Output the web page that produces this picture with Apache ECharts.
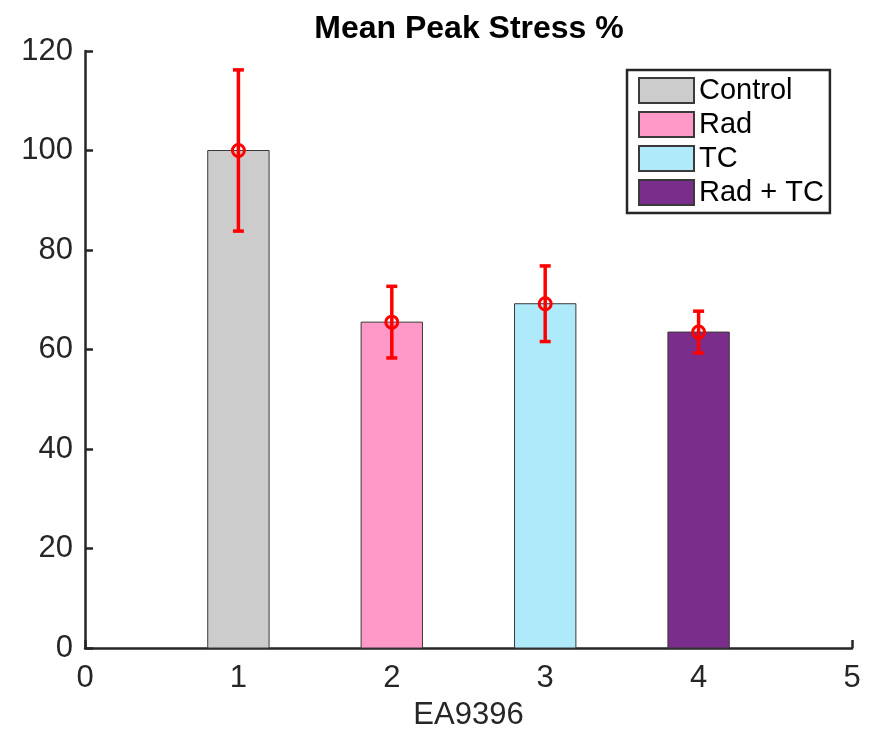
<!DOCTYPE html>
<html>
<head>
<meta charset="utf-8">
<script src="https://cdn.jsdelivr.net/npm/echarts@6/dist/echarts.min.js"></script>
<style>
html,body{margin:0;padding:0;background:#fff;}
#main{width:876px;height:732px;}
</style>
</head>
<body>
<div id="main"></div>
<script>
// Data
const categories = ['Control', 'Rad', 'TC', 'Rad + TC'];
const positions = [1, 2, 3, 4];
const means = [100, 65.5, 69.2, 63.5];
const errors = [16.2, 7.2, 7.6, 4.2];
const barColors = ['#cccccc', '#ff99c8', '#aeeafa', '#7b2d8b'];
const xTicks = [0, 1, 2, 3, 4, 5];
const yTicks = [0, 20, 40, 60, 80, 100, 120];

const FONT = 'Liberation Sans, Arial, Helvetica, sans-serif';
const AX = '#262626';
const BAR_HALF = 0.2;

const chart = echarts.init(document.getElementById('main'));

const barSeries = categories.map((name, i) => ({
  name: name,
  type: 'custom',
  itemStyle: { color: barColors[i], borderColor: '#3a3a3a', borderWidth: 1 },
  data: [[positions[i], means[i]]],
  z: 2,
  renderItem: function (params, api) {
    const p0 = api.coord([api.value(0) - BAR_HALF, api.value(1)]);
    const p1 = api.coord([api.value(0) + BAR_HALF, 0]);
    return {
      type: 'rect',
      shape: { x: p0[0], y: p0[1], width: p1[0] - p0[0], height: p1[1] - p0[1] },
      style: { fill: barColors[i], stroke: '#3a3a3a', lineWidth: 1 }
    };
  }
}));

const errSeries = {
  name: 'err',
  type: 'custom',
  z: 5,
  data: positions.map((p, i) => [p, means[i], means[i] - errors[i], means[i] + errors[i]]),
  renderItem: function (params, api) {
    const x = api.value(0);
    const c = api.coord([x, api.value(1)]);
    const lo = api.coord([x, api.value(2)]);
    const hi = api.coord([x, api.value(3)]);
    const cap = 5.5;
    const st = { stroke: '#ff0000', lineWidth: 3.5, fill: null };
    return {
      type: 'group',
      children: [
        { type: 'line', shape: { x1: lo[0], y1: lo[1], x2: hi[0], y2: hi[1] }, style: st },
        { type: 'line', shape: { x1: lo[0] - cap, y1: lo[1], x2: lo[0] + cap, y2: lo[1] }, style: st },
        { type: 'line', shape: { x1: hi[0] - cap, y1: hi[1], x2: hi[0] + cap, y2: hi[1] }, style: st },
        { type: 'circle', shape: { cx: c[0], cy: c[1], r: 6 }, style: { stroke: '#ff0000', lineWidth: 3, fill: 'rgba(0,0,0,0)' } }
      ]
    };
  }
};

chart.setOption({
  animation: false,
  backgroundColor: '#ffffff',
  title: {
    text: 'Mean Peak Stress %',
    left: 464, top: 8, textAlign: 'center',
    textStyle: { fontFamily: FONT, fontSize: 32, fontWeight: 'bold', color: '#000' }
  },
  legend: {
    data: categories.map(n => ({ name: n, icon: 'rect' })),
    orient: 'vertical',
    left: 627, top: 70,
    padding: [6, 6, 6, 11],
    itemWidth: 55, itemHeight: 25, itemGap: 5,
    borderColor: '#262626', borderWidth: 2.5,
    backgroundColor: '#fff',
    textStyle: { fontFamily: FONT, fontSize: 29, color: '#000' },
    selectedMode: false
  },
  grid: { left: 85, right: 24, top: 51, bottom: 84, containLabel: false, outerBoundsMode: 'none' },
  xAxis: {
    type: 'value', min: 0, max: 5, interval: 1,
    name: 'EA9396', nameLocation: 'middle', nameGap: 52,
    nameTextStyle: { fontFamily: FONT, fontSize: 31, color: AX },
    axisLine: { show: true, onZero: false, lineStyle: { color: AX, width: 2.5 } },
    axisTick: { show: true, inside: true, length: 8, lineStyle: { color: AX, width: 2.5 } },
    axisLabel: { fontFamily: FONT, fontSize: 31, color: AX, margin: 15,
      formatter: v => xTicks.includes(v) ? String(v) : '' },
    splitLine: { show: false }
  },
  yAxis: {
    type: 'value', min: 0, max: 120, interval: 20,
    axisLine: { show: true, lineStyle: { color: AX, width: 2.5 } },
    axisTick: { show: true, inside: true, length: 8, lineStyle: { color: AX, width: 2.5 } },
    axisLabel: { fontFamily: FONT, fontSize: 31, color: AX, margin: 12,
      formatter: v => yTicks.includes(v) ? String(v) : '' },
    splitLine: { show: false }
  },
  series: barSeries.concat([errSeries])
});
</script>
</body>
</html>
